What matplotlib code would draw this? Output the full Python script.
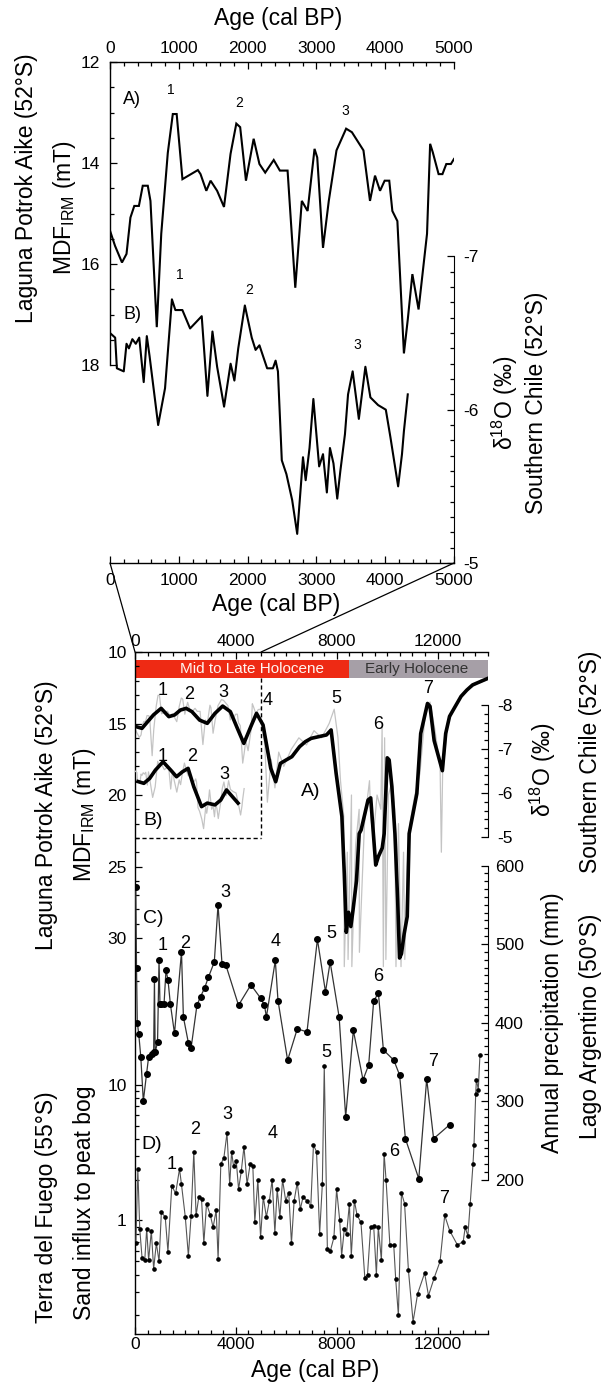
import matplotlib
matplotlib.use("Agg")
import matplotlib.pyplot as plt
import numpy as np
from matplotlib.ticker import FixedLocator, NullFormatter, MultipleLocator, FixedFormatter
from matplotlib.patches import Rectangle, ConnectionPatch

plt.rcParams['font.family'] = ['Liberation Sans', 'DejaVu Sans']
plt.rcParams['mathtext.fontset'] = 'custom'
plt.rcParams['mathtext.rm'] = 'Liberation Sans'
plt.rcParams['axes.unicode_minus'] = False

# ---------------- data: top panel (0-5000 cal BP) ----------------
topA_age = [0, 73, 174, 240, 297, 353, 420, 476, 549, 588, 680, 745, 840, 913, 969, 1053, 1277, 1316, 1400, 1462,
            1557, 1657, 1752, 1836, 1892, 1976, 2088, 2172, 2256, 2380, 2469, 2581, 2693, 2788, 2872, 2973, 3012, 3096,
            3180, 3292, 3432, 3516, 3684, 3779, 3852, 3925, 3992, 4059, 4104, 4177, 4272, 4328, 4395, 4485, 4608, 4653,
            4692, 4776, 4832, 4888, 4955, 5000]
topA_mdf = [15.34, 15.64, 15.97, 15.8, 15.08, 14.85, 14.85, 14.45, 14.45, 14.75, 17.25, 15.4, 13.8, 13.03, 13.03, 14.32,
            14.14, 14.22, 14.55, 14.35, 14.55, 14.87, 13.82, 13.22, 13.29, 14.35, 13.52, 14.02, 14.19, 13.94, 14.15,
            14.15, 16.47, 14.75, 14.95, 13.72, 13.89, 15.68, 14.75, 13.75, 13.32, 13.39, 13.75, 14.75, 14.25, 14.55,
            14.35, 14.35, 14.95, 15.15, 17.77, 17.1, 16.2, 16.9, 15.4, 13.62, 13.79, 14.22, 14.22, 14.02, 14.02, 13.92]

topB_age = [0, 75, 100, 200, 240, 275, 325, 375, 425, 490, 535, 575, 700, 800, 900, 950, 1052, 1164, 1249, 1333,
            1416, 1489, 1557, 1658, 1753, 1808, 1864, 1960, 2060, 2116, 2172, 2284, 2368, 2407, 2441, 2497, 2564, 2648,
            2721, 2777, 2805, 2844, 2900, 2956, 3040, 3096, 3152, 3197, 3248, 3303, 3348, 3415, 3460, 3527, 3617, 3712,
            3785, 3897, 4009, 4076, 4188, 4244, 4272, 4328]
topB_d18o = [-6.50, -6.47, -6.27, -6.25, -6.43, -6.40, -6.46, -6.43, -6.47, -6.18, -6.48, -6.35, -5.90, -6.14, -6.72,
             -6.65, -6.65, -6.53, -6.57, -6.61, -6.09, -6.51, -6.28, -6.02, -6.30, -6.19, -6.40, -6.68, -6.47, -6.39,
             -6.42, -6.27, -6.27, -6.32, -6.25, -5.67, -5.58, -5.41, -5.19, -5.52, -5.69, -5.54, -5.75, -6.07, -5.63,
             -5.71, -5.46, -5.75, -5.65, -5.42, -5.60, -5.84, -6.10, -6.25, -5.94, -6.28, -6.08, -6.03, -6.00, -5.82,
             -5.50, -5.71, -5.86, -6.10]

# ---------------- data: bottom panel (0-14000 cal BP) ----------------
botA_age = [46, 275, 503, 732, 1037, 1342, 1571, 1800, 2028, 2257, 2562, 2867, 3172, 3477, 3782, 4087, 4316, 4621,
            4819, 5078, 5231, 5383, 5581, 5765, 5993, 6222, 6527, 6756, 6985, 7289, 7594, 7778, 7976, 8205, 8300,
            8380, 8470, 8560, 8650, 8784, 8891, 8967, 9242, 9348, 9547, 9653, 9806, 9882, 10004, 10080, 10187, 10309,
            10416, 10492, 10568, 10675, 10797, 10873, 11026, 11178, 11331, 11600, 11700, 11865, 12190, 12322, 12475,
            12703, 12932, 13161, 13390, 13695, 14000]
botA_mdf = [15.22, 15.34, 14.87, 14.4, 13.94, 14.52, 14.4, 14.06, 13.94, 14.17, 14.76, 14.99, 14.29, 13.78, 14.17,
            15.45, 16.39, 15.1, 14.29, 15.1, 16.62, 18.13, 19.07, 17.79, 17.55, 17.32, 16.62, 16.27, 16.04, 15.92,
            15.8, 15.45, 18.48, 21.5, 25.5, 29.6, 28.2, 29.2, 28.0, 26.0, 22.7, 22.45, 20.35, 20.2, 24.9, 24.3, 23.7,
            22.7, 17.4, 17.55, 19.4, 22.7, 27.3, 31.4, 31.1, 29.7, 28.5, 22.7, 21.3, 19.9, 15.7, 13.6, 13.8, 16.2,
            18.3, 15.7, 14.5, 13.8, 13.1, 12.66, 12.3, 12.07, 11.84]

rawA_age = [5000, 5150, 5250, 5400, 5550, 5700, 5900, 6200, 6500, 6800, 7100, 7400, 7700, 7900, 8050, 8150, 8280,
            8300, 8420, 8450, 8585, 8600, 8750, 8890, 8900, 9100, 9300, 9350, 9450, 9600, 9750, 9800, 9850, 9900,
            9950, 10050, 10200, 10300, 10350, 10450, 10550, 10650, 10700, 10800, 10900, 11100, 11300, 11500, 11700,
            11900, 12100, 12150, 12200, 12400, 12700, 13000, 13300, 13600, 14000]
rawA_mdf = [14.8, 16.5, 20.5, 17.5, 19.5, 17.0, 18.0, 16.8, 16.0, 16.5, 15.5, 16.0, 15.0, 14.0, 16.0, 19.0, 21.5,
            32.0, 24.0, 31.5, 20.0, 32.0, 23.5, 21.0, 31.0, 22.0, 19.0, 21.5, 23.0, 20.0, 21.0, 15.3, 32.0, 16.0,
            31.5, 20.0, 19.0, 21.0, 32.0, 22.0, 32.0, 24.0, 31.5, 25.0, 22.0, 20.0, 18.5, 14.5, 13.5, 15.5, 18.0,
            24.0, 18.5, 15.0, 13.8, 13.0, 12.5, 12.2, 11.9]

botB_age = [122, 351, 580, 808, 1113, 1418, 1647, 1876, 2105, 2333, 2638, 2867, 3172, 3401, 3630, 3858, 4087]
botB_d18o = [-6.26, -6.22, -6.33, -6.52, -6.71, -6.52, -6.37, -6.48, -6.56, -6.14, -5.69, -5.77, -5.73, -5.84,
             -6.07, -5.92, -5.77]

C_age = [30, 60, 90, 150, 230, 330, 460, 540, 674, 740, 771, 800, 894, 953, 990, 1047, 1152, 1230, 1309, 1401,
         1567, 1844, 1919, 2118, 2222, 2457, 2600, 2761, 2915, 3145, 3293, 3450, 3605, 4105, 4597, 4981, 5135, 5211,
         5565, 5671, 6053, 6437, 6821, 7234, 7555, 7739, 8096, 8356, 8660, 9043, 9268, 9467, 9654, 9852, 10265,
         10495, 10724, 11255, 11569, 11843, 12487]
C_precip = [572, 470, 400, 385, 356, 300, 335, 356, 360, 362, 456, 362, 375, 479, 424, 424, 424, 467, 454, 424,
            386, 490, 407, 374, 367, 422, 433, 444, 458, 477, 550, 475, 473, 422, 448, 431, 422, 407, 479, 428, 352,
            392, 388, 506, 439, 477, 407, 280, 390, 327, 346, 428, 437, 365, 352, 333, 252, 201, 328, 252, 270]

D_age = [35, 112, 188, 280, 387, 464, 540, 648, 739, 847, 954, 1046, 1199, 1306, 1459, 1612, 1765, 1842, 1995, 2117,
         2224, 2332, 2423, 2531, 2638, 2730, 2837, 2990, 3097, 3220, 3296, 3403, 3526, 3648, 3755, 3832, 3909, 4016,
         4108, 4215, 4322, 4444, 4567, 4674, 4751, 4873, 4980, 5087, 5210, 5332, 5440, 5547, 5639, 5746, 5853, 5975,
         6098, 6205, 6312, 6435, 6557, 6664, 6818, 6971, 7078, 7200, 7323, 7430, 7506, 7629, 7751, 7889, 7996, 8119,
         8195, 8303, 8394, 8502, 8578, 8701, 8808, 8961, 9114, 9221, 9344, 9466, 9573, 9650, 9772, 9880, 9956, 10109,
         10262, 10339, 10446, 10568, 10691, 10844, 11028, 11211, 11487, 11640, 11870, 12099, 12283, 12482, 12788,
         13018, 13095, 13202, 13294, 13405, 13445, 13513, 13540, 13615, 13680]
D_sand = [0.68, 2.4, 0.87, 0.53, 0.51, 0.87, 0.51, 0.84, 0.44, 0.68, 0.50, 1.15, 1.06, 0.59, 1.8, 1.58, 2.4, 1.85,
          1.06, 0.55, 1.08, 3.2, 1.09, 1.49, 1.45, 0.68, 1.33, 1.09, 0.89, 1.19, 0.52, 2.6, 2.9, 4.4, 1.85, 3.2, 2.5,
          2.75, 1.7, 2.3, 3.5, 1.85, 2.6, 2.5, 0.97, 2.0, 0.75, 1.49, 1.06, 1.40, 2.0, 0.81, 1.7, 1.06, 2.0, 1.4,
          1.6, 0.68, 1.4, 1.9, 1.21, 1.49, 1.4, 1.27, 3.6, 3.2, 0.8, 1.85, 13.8, 0.62, 0.6, 0.75, 1.7, 1.0, 0.55,
          0.87, 0.8, 1.33, 0.55, 1.4, 1.09, 0.97, 0.38, 0.40, 0.89, 0.91, 0.40, 0.89, 0.51, 3.1, 2.0, 0.66, 0.66,
          0.37, 0.2, 1.6, 1.33, 0.43, 0.18, 0.29, 0.41, 0.28, 0.38, 0.5, 1.09, 0.84, 0.66, 0.70, 0.89, 0.77, 1.33,
          2.6, 3.6, 8.6, 10.9, 9.2, 16.4]

holocene_periods = ["Mid to Late Holocene", "Early Holocene"]
holocene_bounds = [0, 8500, 14000]

# ---------------- layout helpers ----------------
W, H = 603, 1387
fig = plt.figure(figsize=(W / 100, H / 100), dpi=100)


def rect(l, t, r, b):
    return [l / W, 1 - b / H, (r - l) / W, (b - t) / H]


def fx(x):
    return x / W


def fy(y):
    return 1 - y / H


TFS = 12.5   # tick labels
LFS = 16.5   # axis titles
INK = 'black'


def style_ticks(ax, axis, pad):
    ax.tick_params(axis=axis, which='both', direction='in', labelsize=TFS, pad=pad, width=0.9)
    ax.tick_params(axis=axis, which='major', length=5)
    ax.tick_params(axis=axis, which='minor', length=2.8)


# ================= TOP PANEL =================
ax1 = fig.add_axes(rect(110, 62, 454, 563))
ax1.set_xlim(0, 5000)
ax1.set_ylim(21.92, 12)
ax1.plot(topA_age, topA_mdf, color=INK, lw=1.5, solid_joinstyle='miter')
ax1.spines['right'].set_visible(False)
ax1.spines['left'].set_bounds(12, 18)
for s in ax1.spines.values():
    s.set_linewidth(1.0)
ax1.xaxis.set_major_locator(MultipleLocator(1000))
ax1.xaxis.set_minor_locator(MultipleLocator(200))
ax1.yaxis.set_major_locator(FixedLocator([12, 14, 16, 18]))
ax1.yaxis.set_minor_locator(FixedLocator(np.arange(12, 18.01, 0.5)))
style_ticks(ax1, 'x', 7)
ax1.tick_params(axis='x', which='both', top=True, bottom=True, labeltop=False, labelbottom=True)
style_ticks(ax1, 'y', 7)
ax1.tick_params(axis='y', which='both', left=True, right=False)

# top tick labels (separate pad from the bottom ones)
sec = ax1.secondary_xaxis('top')
sec.xaxis.set_major_locator(MultipleLocator(1000))
sec.xaxis.set_minor_locator(MultipleLocator(200))
sec.tick_params(axis='x', which='both', direction='in', length=0, labelsize=TFS, pad=4)
sec.spines['top'].set_visible(False)

ax1r = ax1.twinx()
ax1r.set_ylim(-5, -8.268)
ax1r.plot(topB_age, topB_d18o, color=INK, lw=1.5)
for s in ['left', 'top', 'bottom']:
    ax1r.spines[s].set_visible(False)
ax1r.spines['right'].set_bounds(-7, -5)
ax1r.yaxis.set_major_locator(FixedLocator([-7, -6, -5]))
ax1r.yaxis.set_minor_locator(FixedLocator(np.arange(-7, -4.99, 0.1)))
style_ticks(ax1r, 'y', 7)

# labels inside top panel
ax1.text(325, 12.75, "A)", fontsize=13, ha='center', va='center')
ax1.text(325, 17.0, "B)", fontsize=13, ha='center', va='center')
for lab, x, y in zip(["1", "2", "3"], [885, 1876, 3416], [12.55, 12.81, 12.98]):
    ax1.text(x, y, lab, fontsize=10, ha='center', va='center')
for lab, x, y in zip(["1", "2", "3"], [1013, 2021, 3600], [-6.876, -6.78, -6.42]):
    ax1r.text(x, y, lab, fontsize=10, ha='center', va='center')

fig.text(fx(278), fy(19), "Age (cal BP)", fontsize=LFS, ha='center', va='center')
fig.text(fx(276), fy(604), "Age (cal BP)", fontsize=LFS, ha='center', va='center')
fig.text(fx(27), fy(188), "Laguna Potrok Aike (52°S)", fontsize=LFS, rotation=90, ha='center', va='center')
fig.text(fx(64), fy(208), r"MDF$_{\mathregular{IRM}}$ (mT)", fontsize=LFS, rotation=90, ha='center', va='center')
fig.text(fx(505), fy(403), r"δ$^{\mathregular{18}}$O (‰)", fontsize=LFS, rotation=90, ha='center', va='center')
fig.text(fx(537), fy(403), "Southern Chile (52°S)", fontsize=LFS, rotation=90, ha='center', va='center')

# ================= BOTTOM PANEL =================
ax2 = fig.add_axes(rect(135, 652, 488, 1334))
ax2.set_xlim(0, 14000)
ax2.set_ylim(57.69, 10)
ax2.spines['right'].set_visible(False)
for s in ax2.spines.values():
    s.set_linewidth(1.0)
ax2.xaxis.set_major_locator(MultipleLocator(4000))
ax2.xaxis.set_minor_locator(MultipleLocator(500))
ax2.yaxis.set_major_locator(FixedLocator([10, 15, 20, 25, 30]))
ax2.yaxis.set_minor_locator(FixedLocator(np.arange(10, 33.1, 1)))
style_ticks(ax2, 'x', 3)
ax2.tick_params(axis='x', which='both', top=True, bottom=True, labeltop=True, labelbottom=True)
ax2.tick_params(axis='x', which='major', pad=2)
style_ticks(ax2, 'y', 6)
ax2.tick_params(axis='y', which='both', left=True, right=False)

# Holocene bars
bar_cols = ['#ee2a14', '#a69fa7']
txt_cols = ['#fff4f0', '#333333']
for i, name in enumerate(holocene_periods):
    x0, x1 = holocene_bounds[i], holocene_bounds[i + 1]
    ax2.add_patch(Rectangle((x0, 10.55), x1 - x0, 1.25, facecolor=bar_cols[i], edgecolor='none', zorder=1))
    ax2.text((x0 + x1) / 2 + (400 if i == 0 else -70), 11.18, name, fontsize=11, color=txt_cols[i],
             ha='center', va='center', zorder=2)

# raw data (grey) and smoothed A
ax2.plot(topA_age, topA_mdf, color='#c4c4c4', lw=0.9, zorder=2)
ax2.plot(rawA_age, rawA_mdf, color='#c4c4c4', lw=0.9, zorder=2)
ax2.plot(botA_age, botA_mdf, color=INK, lw=2.6, zorder=3, solid_joinstyle='round')

# dashed box
ax2.plot([0, 5000], [23, 23], color=INK, lw=1.0, ls=(0, (3, 2)), zorder=3)
ax2.plot([5000, 5000], [11.8, 23], color=INK, lw=1.0, ls=(0, (3, 2)), zorder=3)

ax2.text(6985, 19.77, "A)", fontsize=14, ha='center', va='center')
ax2.text(732, 21.75, "B)", fontsize=14, ha='center', va='center')
for lab, x, y in zip(["1", "2", "3", "4", "5", "6", "7"],
                     [1113, 2135, 3523, 5261, 7976, 9653, 11605],
                     [12.66, 13.0, 12.8, 13.36, 13.24, 15.1, 12.54]):
    ax2.text(x, y, lab, fontsize=13, ha='center', va='center')

# log axis (sand influx), shares the left spine
ax_log = ax2.twinx()
ax_log.set_yscale('log')
ax_log.set_ylim(0.146, 15300)
for s in ax_log.spines.values():
    s.set_visible(False)
ax_log.yaxis.tick_left()
ax_log.yaxis.set_major_locator(FixedLocator([1, 10]))
ax_log.yaxis.set_major_formatter(FixedFormatter(['1', '10']))
ax_log.yaxis.set_minor_locator(FixedLocator([0.2, 0.3, 0.4, 0.5, 0.6, 0.7, 0.8, 0.9, 2, 3, 4, 5, 6, 7, 8, 9]))
ax_log.yaxis.set_minor_formatter(NullFormatter())
style_ticks(ax_log, 'y', 6)
ax_log.tick_params(axis='y', which='both', left=True, right=False, labelleft=True, labelright=False)
ax_log.plot(D_age, D_sand, color='#555555', lw=0.8, marker='o', ms=2.3, mfc=INK, mec=INK, zorder=3)
ax_log.text(661, 3.6, "D)", fontsize=14, ha='center', va='center')
for lab, x, y in zip(["1", "2", "3", "4", "5", "6", "7"],
                     [1460, 2380, 3680, 5470, 7580, 10262, 12253],
                     [2.57, 4.7, 6.0, 4.4, 17.2, 3.24, 1.45]):
    ax_log.text(x, y, lab, fontsize=13, ha='center', va='center')

# delta 18O axis (right, upper part)
ax_o = ax2.twinx()
ax_o.set_ylim(6.295, -9.2045)
for s in ['left', 'top', 'bottom']:
    ax_o.spines[s].set_visible(False)
ax_o.spines['right'].set_bounds(-8, -5)
ax_o.yaxis.set_major_locator(FixedLocator([-8, -7, -6, -5]))
ax_o.yaxis.set_minor_locator(FixedLocator(np.arange(-8, -4.99, 0.2)))
style_ticks(ax_o, 'y', 7)
ax_o.plot(topB_age, topB_d18o, color='#c4c4c4', lw=0.9, zorder=2)
ax_o.plot(botB_age, botB_d18o, color=INK, lw=2.6, zorder=3, solid_joinstyle='round')
for lab, x, y in zip(["1", "2", "3"], [1113, 2257, 3553], [-6.83, -6.83, -6.41]):
    ax_o.text(x, y, lab, fontsize=13, ha='center', va='center')

# precipitation axis (right, lower part)
ax_p = ax2.twinx()
ax_p.set_ylim(3.18, 872)
for s in ['left', 'top', 'bottom']:
    ax_p.spines[s].set_visible(False)
ax_p.spines['right'].set_bounds(200, 600)
ax_p.yaxis.set_major_locator(FixedLocator([200, 300, 400, 500, 600]))
ax_p.yaxis.set_minor_locator(FixedLocator(np.arange(200, 601, 10)))
style_ticks(ax_p, 'y', 5)
ax_p.plot(C_age, C_precip, color='#333333', lw=0.9, marker='o', ms=4, mfc=INK, mec=INK, zorder=3)
ax_p.text(730, 533, "C)", fontsize=14, ha='center', va='center')
for lab, x, y in zip(["1", "2", "3", "4", "5", "6", "7"],
                     [1097, 1983, 3570, 5565, 7790, 9650, 11803],
                     [498, 501, 566, 503, 514, 458, 350]):
    ax_p.text(x, y, lab, fontsize=13, ha='center', va='center')

# bottom panel axis titles
fig.text(fx(315), fy(1370), "Age (cal BP)", fontsize=LFS, ha='center', va='center')
fig.text(fx(47), fy(815), "Laguna Potrok Aike (52°S)", fontsize=LFS, rotation=90, ha='center', va='center')
fig.text(fx(85), fy(815), r"MDF$_{\mathregular{IRM}}$ (mT)", fontsize=LFS, rotation=90, ha='center', va='center')
fig.text(fx(47), fy(1207), "Terra del Fuego (55°S)", fontsize=LFS, rotation=90, ha='center', va='center')
fig.text(fx(85), fy(1203), "Sand influx to peat bog", fontsize=LFS, rotation=90, ha='center', va='center')
fig.text(fx(543), fy(770), r"δ$^{\mathregular{18}}$O (‰)", fontsize=LFS, rotation=90, ha='center', va='center')
fig.text(fx(590), fy(762), "Southern Chile (52°S)", fontsize=LFS, rotation=90, ha='center', va='center')
fig.text(fx(553), fy(1023), "Annual precipitation (mm)", fontsize=LFS, rotation=90, ha='center', va='center')
fig.text(fx(591), fy(1026), "Lago Argentino (50°S)", fontsize=LFS, rotation=90, ha='center', va='center')

# zoom connector lines between the panels
con1 = ConnectionPatch(xyA=(0, 0), coordsA=ax1.transAxes, xyB=(0, 1), coordsB=ax2.transAxes,
                       color=INK, lw=0.9)
con2 = ConnectionPatch(xyA=(1, 0), coordsA=ax1.transAxes, xyB=(5000, 1), coordsB=ax2.get_xaxis_transform(),
                       color=INK, lw=0.9)
fig.add_artist(con1)
fig.add_artist(con2)

fig.savefig("out.png", dpi=100)
